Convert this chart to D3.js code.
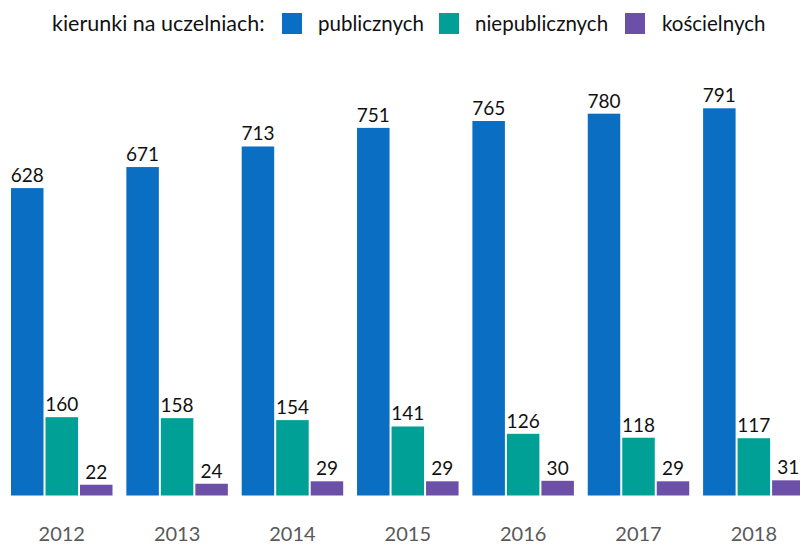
<!DOCTYPE html>
<html>
<head>
<meta charset="utf-8">
<script src="https://cdn.jsdelivr.net/npm/d3@7"></script>
<style>
  html, body { margin: 0; padding: 0; background: #fff; }
  svg { display: block; font-family: Lato, "Open Sans", sans-serif; }
</style>
</head>
<body>
<svg id="chart" width="800" height="546"></svg>
<script>
// Liczba kierunków studiów wg typu uczelni
const years = ["2012", "2013", "2014", "2015", "2016", "2017", "2018"];
const seriesNames = ["publicznych", "niepublicznych", "kościelnych"];
const publiczne = [628, 671, 713, 751, 765, 780, 791];
const niepubliczne = [160, 158, 154, 141, 126, 118, 117];
const koscielne = [22, 24, 29, 29, 30, 29, 31];
const legendTitle = "kierunki na uczelniach:";

const colors = ["#0a6fc3", "#00a096", "#6c4fa6"];
const seriesValues = [publiczne, niepubliczne, koscielne];

const svg = d3.select("#chart");

const baseline = 495.5;
const y = d3.scaleLinear().domain([0, 791]).range([baseline, baseline - 791 * 0.4895]);

const x0 = d3.scaleBand().domain(years).range([11, 804.6]).paddingInner(0.12).paddingOuter(0);
const x1 = d3.scaleBand().domain(seriesNames).range([0, x0.bandwidth()]).paddingInner(0.058).paddingOuter(0);

const groups = svg.append("g").selectAll("g")
  .data(years)
  .join("g")
  .attr("transform", d => `translate(${x0(d)},0)`);

const cells = groups.selectAll("g.cell")
  .data((yr, i) => seriesNames.map((s, k) => ({ s, k, v: seriesValues[k][i] })))
  .join("g").attr("class", "cell");

cells.append("rect")
  .attr("x", d => x1(d.s))
  .attr("width", x1.bandwidth())
  .attr("y", d => y(d.v))
  .attr("height", d => y(0) - y(d.v))
  .attr("fill", d => colors[d.k]);

cells.append("text")
  .attr("x", d => x1(d.s) + x1.bandwidth() / 2)
  .attr("y", d => y(d.v) - 6)
  .attr("text-anchor", "middle")
  .attr("font-size", 19)
  .attr("fill", "#111")
  .text(d => d.v);

// Etykiety lat pod grupami
svg.append("g").selectAll("text")
  .data(years)
  .join("text")
  .attr("x", d => x0(d) + x0.bandwidth() / 2)
  .attr("y", 541)
  .attr("text-anchor", "middle")
  .attr("font-size", 20)
  .attr("fill", "#595959")
  .text(d => d);

// Legenda
const legend = svg.append("g");
legend.append("text")
  .attr("x", 52).attr("y", 31)
  .attr("font-size", 21.5)
  .attr("fill", "#111")
  .text(legendTitle);

const swatchX = [282, 439, 625];
const labelX = [318, 475, 662];
seriesNames.forEach((s, k) => {
  legend.append("rect")
    .attr("x", swatchX[k]).attr("y", 13)
    .attr("width", 20).attr("height", 21)
    .attr("fill", colors[k]);
  legend.append("text")
    .attr("x", labelX[k]).attr("y", 31)
    .attr("font-size", 20.5)
    .attr("fill", "#111")
    .text(s);
});
</script>
</body>
</html>
